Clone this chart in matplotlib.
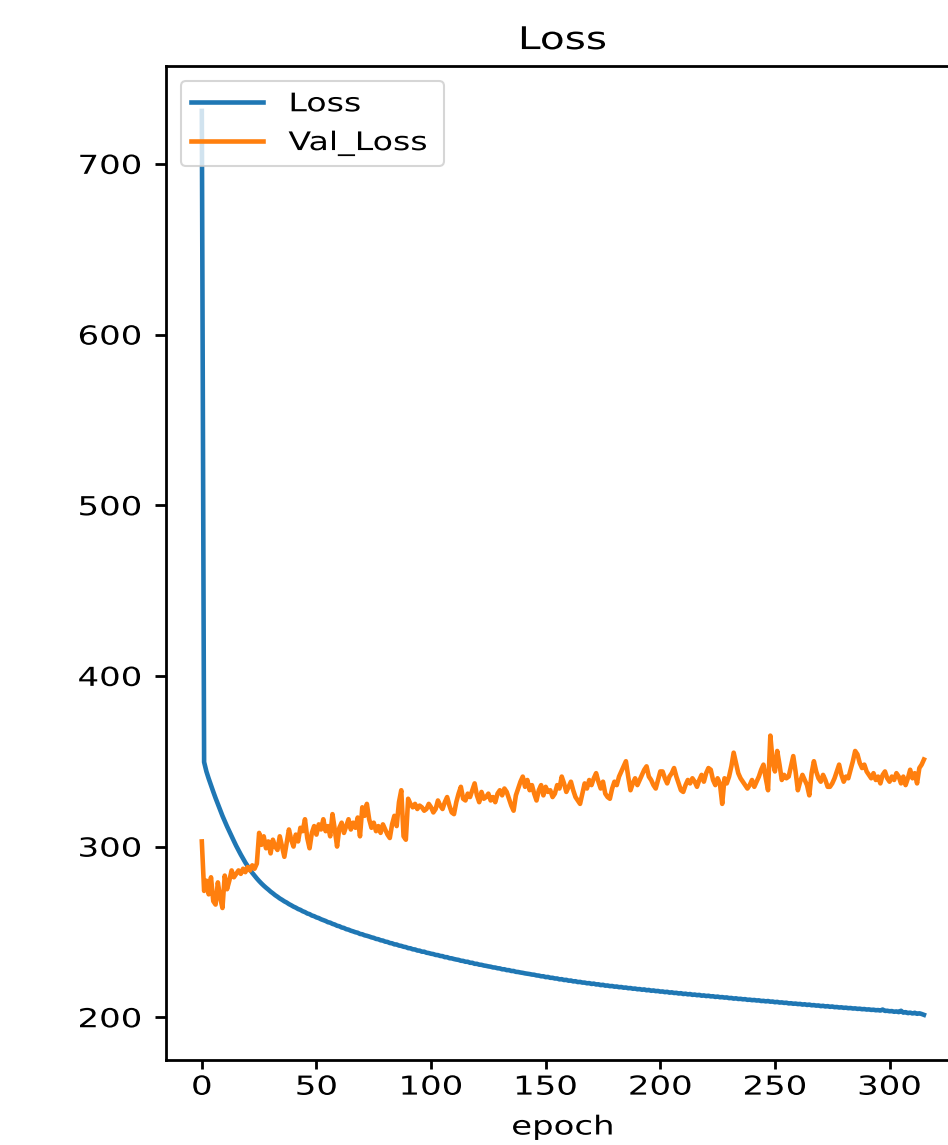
import numpy as np
import matplotlib.pyplot as plt
from matplotlib import patheffects
from matplotlib.transforms import Affine2D


class WideText(patheffects.AbstractPathEffect):
    """Draw the glyphs of a text stretched sideways about one edge."""

    def __init__(self, sx=1.3, anchor="left"):
        super().__init__()
        self.sx = sx
        self.anchor = anchor

    def draw_path(self, renderer, gc, tpath, affine, rgbFace=None):
        ext = tpath.get_extents()
        cx = {"left": 0.0, "center": 0.5 * (ext.x0 + ext.x1), "right": ext.x1}[self.anchor]
        stretch = Affine2D().translate(-cx, 0).scale(self.sx, 1).translate(cx, 0)
        renderer.draw_path(gc, tpath, stretch + affine, rgbFace)


# training history, one value per epoch
loss = [
    731.0, 349.5, 344.0, 339.8, 335.9, 332.1, 328.4, 324.9, 321.3, 318.0,
    314.9, 311.8, 308.9, 306.0, 303.2, 300.4, 297.8, 295.3, 292.9, 290.6,
    288.5, 286.5, 284.6, 282.9, 281.3, 279.8, 278.4, 277.1, 275.9, 274.8,
    273.6, 272.6, 271.5, 270.6, 269.6, 268.8, 267.9, 267.2, 266.3, 265.6,
    264.8, 264.2, 263.4, 262.9, 262.1, 261.6, 260.8, 260.4, 259.6, 259.2,
    258.5, 258.1, 257.4, 256.9, 256.4, 255.7, 255.4, 254.7, 254.3, 253.6,
    253.3, 252.6, 252.3, 251.6, 251.3, 250.7, 250.3, 249.8, 249.5, 248.8,
    248.6, 248.0, 247.7, 247.3, 246.8, 246.5, 245.9, 245.7, 245.1, 244.9,
    244.3, 244.1, 243.5, 243.3, 242.7, 242.6, 242.0, 241.8, 241.3, 241.1,
    240.5, 240.4, 239.8, 239.7, 239.1, 239.0, 238.4, 238.4, 237.8, 237.6,
    237.2, 237.0, 236.5, 236.4, 235.9, 235.8, 235.2, 235.2, 234.6, 234.5,
    234.1, 233.8, 233.6, 233.1, 233.0, 232.5, 232.5, 231.9, 231.9, 231.3,
    231.3, 230.8, 230.7, 230.3, 230.1, 229.8, 229.6, 229.2, 229.1, 228.7,
    228.6, 228.1, 228.1, 227.6, 227.6, 227.1, 227.1, 226.6, 226.5, 226.2,
    226.0, 225.7, 225.5, 225.3, 225.0, 224.9, 224.5, 224.4, 224.0, 224.0,
    223.5, 223.6, 223.1, 223.1, 222.7, 222.7, 222.2, 222.3, 221.8, 221.9,
    221.4, 221.5, 221.0, 221.1, 220.6, 220.7, 220.3, 220.3, 219.9, 220.0,
    219.5, 219.7, 219.2, 219.3, 218.8, 219.0, 218.5, 218.6, 218.2, 218.3,
    217.9, 218.0, 217.6, 217.7, 217.3, 217.4, 217.0, 217.1, 216.7, 216.8,
    216.4, 216.5, 216.1, 216.3, 215.8, 216.0, 215.5, 215.7, 215.3, 215.4,
    215.0, 215.1, 214.7, 214.9, 214.4, 214.6, 214.2, 214.3, 213.9, 214.1,
    213.6, 213.8, 213.4, 213.6, 213.1, 213.3, 212.9, 213.1, 212.6, 212.8,
    212.4, 212.6, 212.2, 212.3, 211.9, 212.1, 211.7, 211.8, 211.5, 211.6,
    211.2, 211.3, 210.9, 211.1, 210.7, 210.8, 210.5, 210.6, 210.2, 210.3,
    210.0, 210.1, 209.8, 209.9, 209.5, 209.6, 209.3, 209.5, 209.1, 209.2,
    208.8, 209.0, 208.6, 208.7, 208.4, 208.5, 208.1, 208.2, 207.9, 208.0,
    207.7, 207.8, 207.4, 207.6, 207.2, 207.4, 207.0, 207.1, 206.8, 206.9,
    206.5, 206.7, 206.3, 206.5, 206.1, 206.3, 205.9, 206.0, 205.7, 205.8,
    205.5, 205.6, 205.3, 205.4, 205.1, 205.2, 204.9, 205.0, 204.7, 204.8,
    204.5, 204.6, 204.3, 204.4, 204.1, 204.2, 203.9, 204.5, 203.7, 203.8,
    203.5, 203.6, 203.2, 203.4, 203.0, 203.8, 202.7, 203.0, 202.4, 202.7,
    202.2, 202.6, 202.0, 202.3, 201.9, 201.4,
]

val_loss = [
    303, 274, 280, 272, 282, 268, 266, 279, 270, 264,
    283, 275, 280, 286, 282, 284, 286, 284, 287, 285,
    288, 286, 289, 287, 290, 308, 301, 306, 299, 303,
    296, 304, 300, 298, 306, 300, 294, 302, 310, 304,
    300, 307, 303, 311, 309, 316, 305, 299, 308, 312,
    307, 313, 310, 316, 309, 312, 306, 319, 310, 300,
    311, 314, 308, 312, 316, 310, 314, 311, 317, 306,
    323, 318, 325, 316, 311, 314, 309, 312, 308, 313,
    310, 307, 305, 313, 318, 312, 326, 333, 306, 304,
    328, 325, 323, 325, 322, 324, 323, 321, 322, 325,
    323, 320, 322, 327, 324, 322, 326, 329, 324, 320,
    319, 326, 331, 335, 328, 327, 331, 329, 333, 337,
    330, 326, 332, 328, 329, 331, 327, 329, 326, 331,
    333, 330, 334, 332, 328, 324, 321, 330, 334, 338,
    341, 335, 339, 333, 336, 331, 327, 333, 336, 330,
    335, 332, 333, 329, 331, 336, 334, 341, 337, 332,
    335, 338, 333, 329, 327, 325, 331, 337, 334, 339,
    336, 340, 343, 338, 334, 338, 331, 329, 328, 334,
    338, 336, 341, 344, 347, 350, 341, 333, 337, 340,
    336, 339, 342, 345, 347, 341, 339, 336, 334, 339,
    344, 344, 340, 337, 341, 343, 346, 341, 337, 333,
    332, 336, 339, 337, 340, 338, 335, 339, 342, 338,
    343, 346, 345, 339, 336, 340, 337, 325, 340, 337,
    341, 347, 355, 349, 343, 340, 338, 336, 334, 336,
    339, 335, 338, 341, 345, 348, 340, 333, 365, 350,
    344, 356, 348, 339, 342, 340, 341, 347, 353, 344,
    333, 338, 342, 339, 336, 330, 343, 350, 344, 340,
    338, 342, 339, 335, 335, 337, 340, 344, 348, 342,
    338, 341, 340, 345, 350, 356, 354, 349, 346, 348,
    344, 342, 340, 343, 339, 341, 337, 342, 344, 340,
    338, 341, 339, 343, 341, 337, 341, 336, 340, 345,
    340, 343, 337, 346, 348, 351,
]

epochs = np.arange(len(loss))

fig = plt.figure(figsize=(9.48, 11.45), dpi=100)
ax = fig.add_axes([0.1748, 0.0742, 0.8379, 0.8684])

ax.plot(epochs, loss, color="#1f77b4", lw=3.3, label="Loss")
ax.plot(epochs, val_loss, color="#ff7f0e", lw=3.3, label="Val_Loss")

ax.set_title("Loss", fontsize=22.5, pad=12)
ax.set_xlabel("epoch", fontsize=18.8, labelpad=10)
ax.set_xticks([0, 50, 100, 150, 200, 250, 300])
ax.set_yticks([200, 300, 400, 500, 600, 700])
ax.tick_params(axis="both", labelsize=18.8, width=2.0)
ax.tick_params(axis="x", length=6.5, pad=4)
ax.tick_params(axis="y", length=8.2, pad=9)
for sp in ax.spines.values():
    sp.set_linewidth(2.0)

leg = ax.legend(loc="upper left", bbox_to_anchor=(0, 0, 0.3697, 1), mode="expand",
                fontsize=18.4, borderaxespad=0.6, handlelength=2.82, handletextpad=0.98)
leg.get_frame().set_linewidth(1.5)

# widen the lettering sideways
ax.title.set_path_effects([WideText(anchor="center")])
ax.xaxis.label.set_path_effects([WideText(anchor="center")])
for lab in ax.get_xticklabels():
    lab.set_path_effects([WideText(anchor="center")])
for lab in ax.get_yticklabels():
    lab.set_path_effects([WideText(anchor="right")])
for txt in leg.get_texts():
    txt.set_path_effects([WideText(anchor="left")])

fig.savefig("out.png", dpi=100)
